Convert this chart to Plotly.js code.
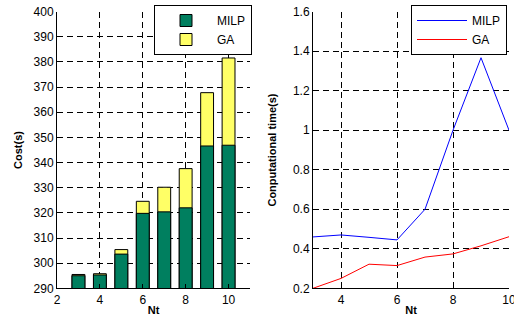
<!DOCTYPE html>
<html>
<head>
<meta charset="utf-8">
<script src="https://cdn.plot.ly/plotly-3.0.1.min.js"></script>
<style>html,body{margin:0;padding:0;background:#fff;}#chart{width:514px;height:321px;}</style>
</head>
<body>
<div id="chart"></div>
<script>
// Data
const nt = [3, 4, 5, 6, 7, 8, 9, 10];
const costMILP = [295.0, 295.3, 303.6, 319.8, 320.4, 322.0, 346.6, 346.9];
const costGA   = [295.5, 295.8, 305.4, 324.6, 330.2, 337.6, 367.8, 381.6];
const timeMILP = [0.46, 0.47, 0.458, 0.445, 0.60, 1.0, 1.367, 1.0];
const timeGA   = [0.20, 0.25, 0.322, 0.315, 0.358, 0.374, 0.415, 0.461];
const seriesNames = ['MILP', 'GA'];

const W = 514, H = 321;
const fx = p => p / W;
const fy = p => 1 - p / H;

const fam = 'Liberation Sans, Arial, sans-serif';
const font = {family: fam, size: 12, color: '#000'};
const gridCommon = {
  showgrid: true, gridcolor: '#000', gridwidth: 1, griddash: '6px,4px',
  showline: true, linecolor: '#000', linewidth: 1,
  ticks: 'inside', ticklen: 4, tickcolor: '#000',
  zeroline: false, automargin: false, mirror: false,
  tickfont: font, ticklabeloverflow: 'allow'
};
const titleFont = {family: fam, size: 11, color: '#000'};

const traces = [
  {type: 'bar', x: nt, y: costGA, name: seriesNames[1], xaxis: 'x', yaxis: 'y', width: 0.6,
   marker: {color: '#ffff66', line: {color: '#000', width: 1}}, legend: 'legend'},
  {type: 'bar', x: nt, y: costMILP, name: seriesNames[0], xaxis: 'x', yaxis: 'y', width: 0.6,
   marker: {color: '#007f5f', line: {color: '#000', width: 1}}, legend: 'legend'},
  {type: 'scatter', mode: 'lines', x: nt, y: timeMILP, name: seriesNames[0], xaxis: 'x2', yaxis: 'y2',
   line: {color: '#0000ff', width: 1}, legend: 'legend2'},
  {type: 'scatter', mode: 'lines', x: nt, y: timeGA, name: seriesNames[1], xaxis: 'x2', yaxis: 'y2',
   line: {color: '#ff0000', width: 1}, legend: 'legend2'}
];

const yDom = [fy(288.3), fy(11.7)];
const layout = {
  width: W, height: H,
  margin: {l: 0, r: 0, t: 0, b: 0},
  paper_bgcolor: '#fff', plot_bgcolor: '#fff',
  font: font,
  barmode: 'overlay',
  showlegend: true,
  xaxis: Object.assign({}, gridCommon, {
    domain: [fx(57), fx(250)], range: [2, 11], tickvals: [2, 4, 6, 8, 10],
    anchor: 'y',
    title: {text: '<b>Nt</b>', font: titleFont, standoff: 0}
  }),
  yaxis: Object.assign({}, gridCommon, {
    domain: yDom, range: [290, 400], dtick: 10, anchor: 'x',
    title: {text: '<b>Cost(s)</b>', font: titleFont, standoff: 8}
  }),
  xaxis2: Object.assign({}, gridCommon, {
    domain: [fx(313), fx(509)], range: [3, 10], tickvals: [4, 6, 8, 10],
    anchor: 'y2',
    title: {text: '<b>Nt</b>', font: titleFont, standoff: 0}
  }),
  yaxis2: Object.assign({}, gridCommon, {
    domain: yDom, range: [0.2, 1.6], dtick: 0.2, tickformat: '.1~f', anchor: 'x2',
    title: {text: '<b>Conputational time(s)</b>', font: titleFont, standoff: 14}
  }),
  legend: {
    x: fx(154), y: fy(55), xanchor: 'left', yanchor: 'bottom',
    bgcolor: '#fff', bordercolor: '#000', borderwidth: 1,
    font: {family: fam, size: 12, color: '#000'},
    traceorder: 'reversed', tracegroupgap: 0, itemwidth: 52
  },
  legend2: {
    x: fx(411), y: fy(55), xanchor: 'left', yanchor: 'bottom',
    bgcolor: '#fff', bordercolor: '#000', borderwidth: 1,
    font: {family: fam, size: 12, color: '#000'},
    traceorder: 'normal', itemwidth: 50
  }
};

Plotly.newPlot('chart', traces, layout, {staticPlot: true, displayModeBar: false});
</script>
</body>
</html>
